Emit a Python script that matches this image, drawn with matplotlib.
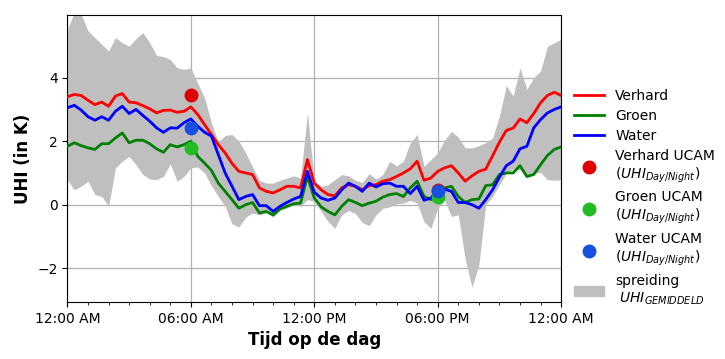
import numpy as np
import pandas as pd
import matplotlib
matplotlib.use('Agg')
import matplotlib.pyplot as plt
import matplotlib.dates as mdates
from matplotlib.lines import Line2D
from matplotlib.patches import Patch

# 20-minute steps over one day (73 points)
tijd = pd.date_range('2020-01-01 00:00', '2020-01-02 00:00', freq='20min')

verhard = [3.40, 3.47, 3.44, 3.29, 3.15, 3.23, 3.10, 3.42, 3.50, 3.23, 3.21, 3.12, 3.02, 2.89, 2.97, 2.98, 2.91, 2.94,
           3.08, 2.84, 2.52, 2.21, 1.89, 1.63, 1.30, 1.05, 1.00, 0.95, 0.53, 0.42, 0.37, 0.47, 0.58, 0.58, 0.53, 1.42,
           0.68, 0.47, 0.32, 0.28, 0.53, 0.63, 0.58, 0.47, 0.60, 0.63, 0.74, 0.79, 0.89, 1.00, 1.13, 1.37, 0.77, 0.84,
           1.05, 1.16, 1.23, 1.00, 0.74, 0.91, 1.05, 1.12, 1.54, 1.97, 2.34, 2.41, 2.70, 2.58, 2.87, 3.21, 3.44, 3.54, 3.44]
groen = [1.84, 1.95, 1.86, 1.79, 1.74, 1.92, 1.92, 2.10, 2.26, 1.95, 2.03, 2.03, 1.92, 1.76, 1.65, 1.89, 1.82, 1.89,
         2.00, 1.52, 1.31, 1.08, 0.68, 0.42, 0.16, -0.11, 0.00, 0.07, -0.26, -0.21, -0.32, -0.14, -0.05, 0.03, 0.05, 0.89,
         0.21, -0.07, -0.21, -0.32, -0.05, 0.16, 0.07, -0.03, 0.05, 0.11, 0.24, 0.32, 0.35, 0.26, 0.53, 0.74, 0.26, 0.16,
         0.26, 0.53, 0.58, 0.26, 0.07, 0.16, 0.18, 0.60, 0.63, 0.95, 1.00, 1.00, 1.23, 0.89, 0.95, 1.26, 1.55, 1.74, 1.82]
water = [3.05, 3.13, 2.98, 2.77, 2.66, 2.77, 2.66, 2.94, 3.10, 2.87, 3.00, 2.81, 2.63, 2.42, 2.28, 2.42, 2.41, 2.58,
         2.70, 2.47, 2.28, 2.16, 1.58, 1.00, 0.58, 0.16, 0.26, 0.32, -0.03, -0.03, -0.21, -0.05, 0.07, 0.18, 0.26, 1.05,
         0.39, 0.21, 0.14, 0.21, 0.47, 0.68, 0.58, 0.42, 0.68, 0.56, 0.66, 0.68, 0.58, 0.58, 0.35, 0.58, 0.14, 0.21,
         0.47, 0.49, 0.42, 0.07, 0.07, 0.00, -0.11, 0.16, 0.47, 0.87, 1.23, 1.37, 1.76, 1.84, 2.42, 2.68, 2.89, 3.00, 3.08]
spreiding_max = [5.52, 6.05, 6.00, 5.47, 5.26, 5.05, 4.84, 5.26, 5.10, 4.99, 5.23, 5.42, 5.10, 4.70, 4.66, 4.57, 4.31, 4.26,
                 4.31, 3.82, 3.36, 2.58, 1.97, 2.18, 2.21, 2.00, 1.63, 1.19, 0.77, 0.68, 0.68, 0.77, 0.84, 0.91, 0.84, 2.89,
                 0.74, 0.58, 0.63, 0.79, 0.95, 0.91, 0.77, 0.70, 0.98, 0.81, 0.95, 1.37, 1.22, 1.37, 1.95, 2.21, 1.21, 1.42,
                 1.63, 2.03, 2.31, 2.13, 1.79, 1.79, 1.86, 1.95, 2.10, 2.79, 3.75, 3.42, 4.31, 3.63, 4.00, 4.21, 4.99, 5.10, 5.21]
spreiding_min = [0.79, 0.47, 0.58, 0.74, 0.32, 0.26, -0.05, 1.16, 1.37, 1.52, 1.26, 0.95, 0.81, 0.79, 0.89, 1.29, 0.74, 0.89,
                 1.16, 1.19, 1.00, 0.60, 0.26, -0.05, -0.60, -0.70, -0.39, -0.26, -0.32, -0.26, -0.39, -0.16, -0.11, 0.00, -0.05, 0.16,
                 0.11, -0.21, -0.53, -0.74, -0.32, -0.18, -0.28, -0.56, -0.66, -0.32, -0.11, -0.07, 0.03, 0.05, 0.14, 0.05, -0.53, -0.74,
                 -0.11, 0.14, -0.37, -0.32, -1.70, -2.60, -1.90, 0.00, 0.26, 0.63, 0.98, 1.12, 1.10, 0.84, 0.98, 1.02, 0.79, 0.77, 0.79]

# UCAM day/night values (06:00 and 18:00)
ucam_tijd = pd.to_datetime(['2020-01-01 06:00', '2020-01-01 18:00'])
ucam_verhard = [3.45, 0.45]
ucam_groen = [1.80, 0.25]
ucam_water = [2.42, 0.42]

fig = plt.figure(figsize=(7.25, 3.59), dpi=100)
ax = fig.add_axes([0.093, 0.159, 0.681, 0.799])

ax.fill_between(tijd, spreiding_min, spreiding_max, color='#bfbfbf', linewidth=0, zorder=1)
ax.plot(tijd, verhard, color='red', linewidth=2, zorder=3)
ax.plot(tijd, groen, color='green', linewidth=2, zorder=3)
ax.plot(tijd, water, color='blue', linewidth=2, zorder=3)

ax.plot(ucam_tijd, ucam_verhard, 'o', color='#e00000', markersize=9, zorder=4)
ax.plot(ucam_tijd, ucam_groen, 'o', color='#22bb22', markersize=9, zorder=4)
ax.plot(ucam_tijd, ucam_water, 'o', color='#1a50e0', markersize=9, zorder=4)

ax.set_xlim(tijd[0], tijd[-1])
ax.set_ylim(-3.06, 5.97)
ax.set_yticks([-2, 0, 2, 4])
ax.xaxis.set_major_locator(mdates.HourLocator(byhour=[0, 6, 12, 18]))
ax.xaxis.set_minor_locator(mdates.HourLocator())
ax.xaxis.set_major_formatter(mdates.DateFormatter('%I:%M %p'))
ax.tick_params(labelsize=10)
ax.grid(True, color='#b0b0b0', linewidth=0.9)
ax.set_axisbelow(True)

ax.set_xlabel('Tijd op de dag', fontsize=12, fontweight='bold')
ax.set_ylabel('UHI (in K)', fontsize=12, fontweight='bold')

handles = [
    Line2D([], [], color='red', linewidth=2),
    Line2D([], [], color='green', linewidth=2),
    Line2D([], [], color='blue', linewidth=2),
    Line2D([], [], marker='o', linestyle='none', color='#e00000', markersize=9),
    Line2D([], [], marker='o', linestyle='none', color='#22bb22', markersize=9),
    Line2D([], [], marker='o', linestyle='none', color='#1a50e0', markersize=9),
    Patch(color='#bfbfbf'),
]
labels = ['Verhard', 'Groen', 'Water',
          'Verhard UCAM\n($UHI_{Day/Night}$)',
          'Groen UCAM\n($UHI_{Day/Night}$)',
          'Water UCAM\n($UHI_{Day/Night}$)',
          'spreiding\n $UHI_{GEMIDDELD}$']
ax.legend(handles, labels, loc='lower left', bbox_to_anchor=(1.0, -0.06),
          frameon=False, fontsize=10, handlelength=2.2, labelspacing=0.42)

fig.savefig('out.png', dpi=100)
